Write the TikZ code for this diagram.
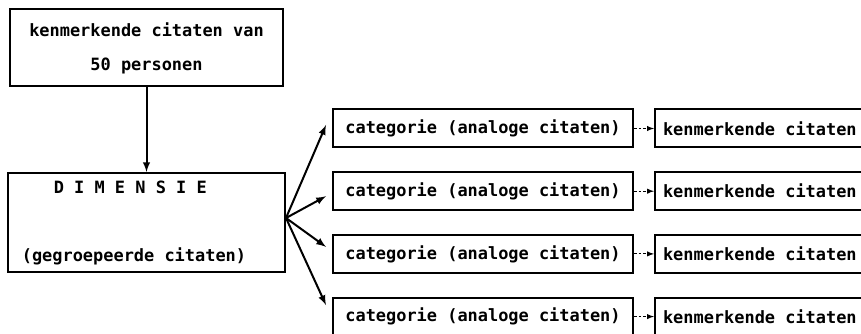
\documentclass[tikz,border=0pt]{standalone}
\usepackage{fontspec}
\setmonofont{DejaVu Sans Mono}
\usepackage{tikz}
\usetikzlibrary{positioning}
\usetikzlibrary{calc,arrows}

\begin{document}
\begin{tikzpicture}
	[   x=0.75pt,y=-0.75pt,
	    bnode/.style={draw=black,line width=1.5pt,font=\ttfamily\bfseries\fontsize{12.7}{25.5}\selectfont,inner sep=0pt,minimum width=#1,execute at begin node={\spaceskip=0pt\relax}},
	]
	\tikzset{normal arrow/.style={draw,line width=1.5pt,-latex}}
	\tikzset{small arrow/.style={draw,line width=0.8pt,dash pattern=on 2pt off 1.5pt,-latex}}
	\useasboundingbox (0,0) rectangle (861,334);
	\clip (0,0) rectangle (861,334);
	
	\node[bnode=204.75pt,minimum height=57.75pt,align=center] (top) at (146.5,48) {kenmerkende citaten van\\50 personen};
	
	\node[bnode=207.75pt,minimum height=74.25pt,align=left,text width=187pt,inner xsep=10pt] (dim) at (146.5,222.5) {\hspace*{24pt}D I M E N S I E\\ \mbox{}\\(gegroepeerde citaten)};
	
	\path[normal arrow] (top) -- (dim);
	
	\coordinate (fan) at ($(dim.east)+(0,-4.5)$);
	
	\foreach \i in {1,...,4}
	{
		\node[bnode=225pt,minimum height=28.5pt] (cat-\i) at (483,{128.5+62.7*(\i-1)}) {categorie (analoge citaten)};
		\node[bnode=180pt,minimum height=28.5pt,anchor=west,align=left,text width=170pt,inner xsep=6pt] (ken-\i) at (654,{128.5+62.7*(\i-1)}) {kenmerkende citaten};
		\path[small arrow] (cat-\i) -- (ken-\i);
	}
	
	\foreach \i/\dy in {1/-3.5,2/5,3/-7,4/-11.5}
	{
		\path[normal arrow] (fan) -- ($(cat-\i.west)+(-6,\dy)$);
	}
\end{tikzpicture}
\end{document}
